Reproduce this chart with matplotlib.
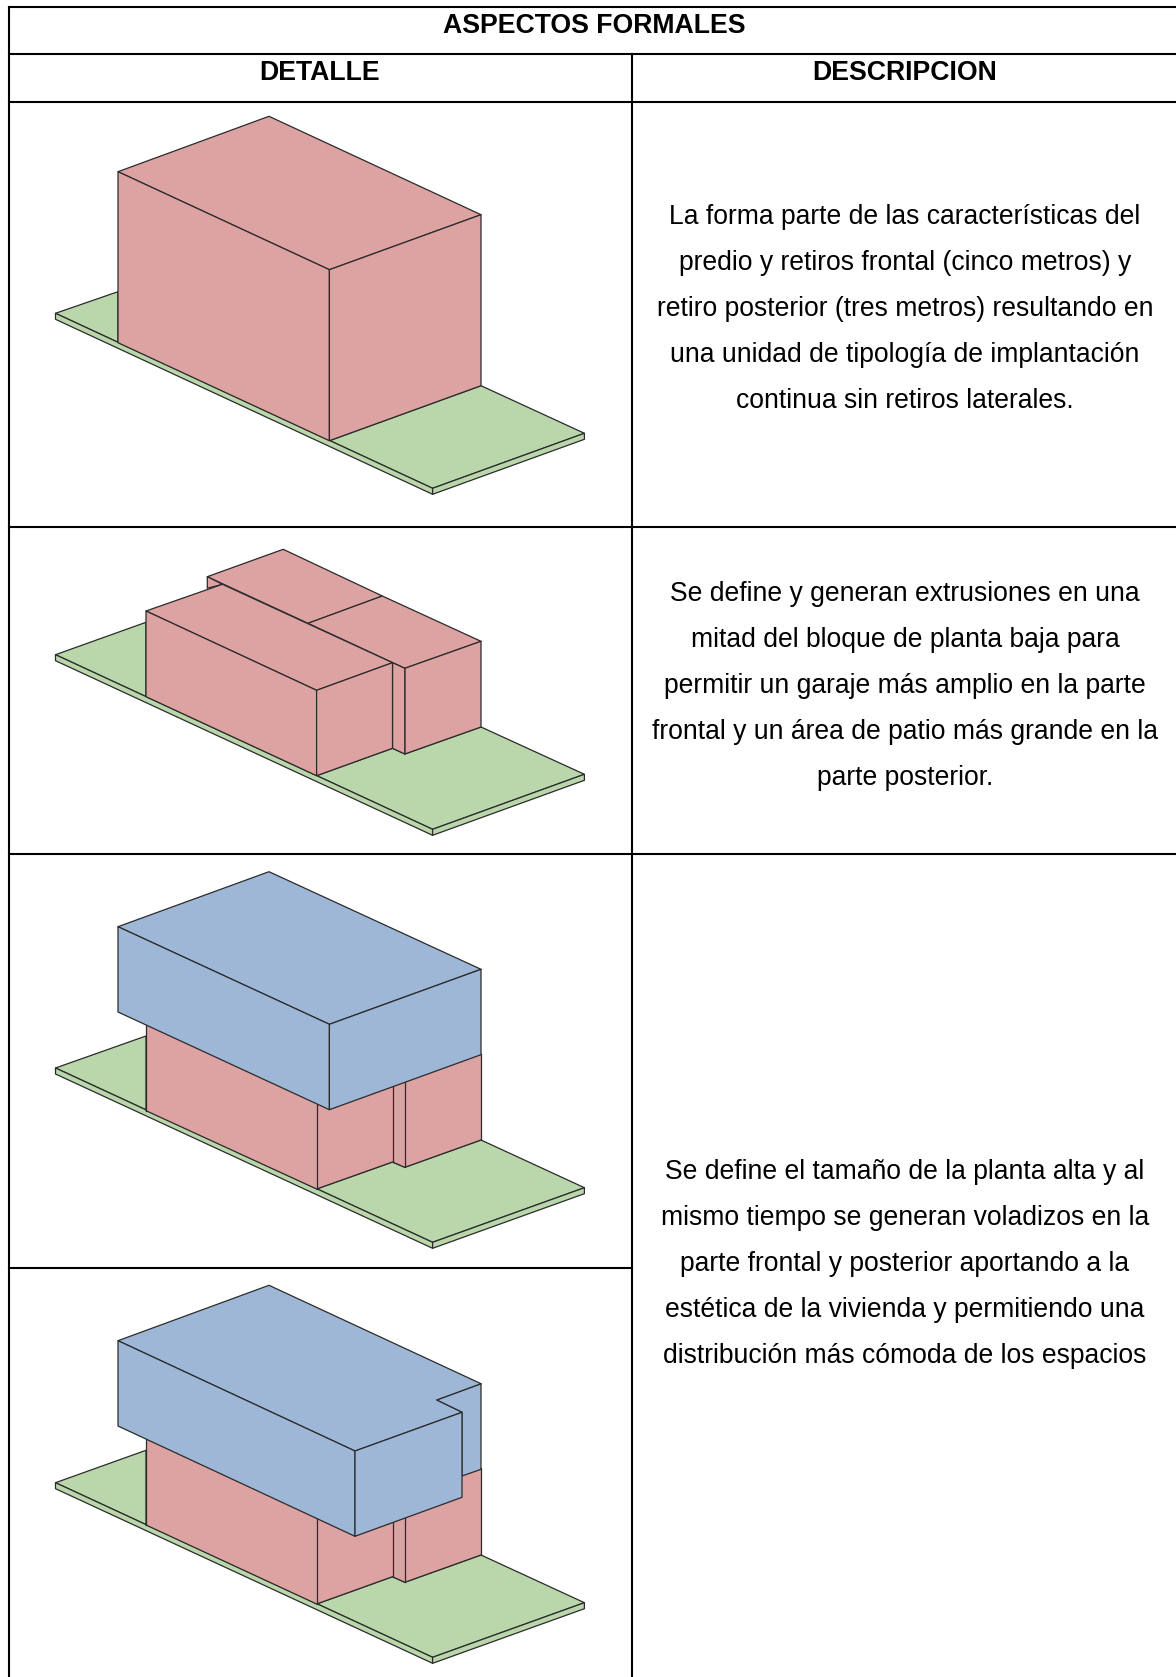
import matplotlib
matplotlib.use("Agg")
import matplotlib.pyplot as plt
from matplotlib.patches import Polygon

W, H = 1176, 1677
PINK, GREEN, BLUE = "#DDA2A2", "#BAD7AC", "#9FB7D7"
EDGE = "#2b2b2b"

title = "ASPECTOS FORMALES"
col_heads = ["DETALLE", "DESCRIPCION"]
row1_text = ["La forma parte de las características del",
             "predio y retiros frontal (cinco metros) y",
             "retiro posterior (tres metros) resultando en",
             "una unidad de tipología de implantación",
             "continua sin retiros laterales."]
row2_text = ["Se define y generan extrusiones en una",
             "mitad del bloque de planta baja para",
             "permitir un garaje más amplio en la parte",
             "frontal y un área de patio más grande en la",
             "parte posterior."]
row3_text = ["Se define el tamaño de la planta alta y al",
             "mismo tiempo se generan voladizos en la",
             "parte frontal y posterior aportando a la",
             "estética de la vivienda y permitiendo una",
             "distribución más cómoda de los espacios"]
row1_y = [217, 263, 309, 355, 401]
row2_y = [594, 640, 686, 732, 778]
row3_y = [1172, 1218, 1264, 1310, 1356]

grid_x = [8.5, 632]
full_rules_y = [7, 53.5, 102, 526.5, 853.5]
left_rule_y = 1267.5

# base plate: left, front and right corners
base_x = [55.5, 432.6, 584.4]
base_thick = 6
# per drawing: y of the corners and the outline of the plate behind the massing
d1_base = dict(y=[313.3, 488.3, 433.3],
               rim=[(118, 291.7), (118, 342.7), (329.4, 440.7), (481, 385.7)])
d2_base = dict(y=[654.7, 829.3, 774.3],
               rim=[(146, 622.3), (146, 696.7), (316.6, 775.7), (392.5, 748.3), (404.8, 754), (481, 727)])
d3_base = dict(y=[1068, 1242.3, 1187.7],
               rim=[(146, 1036), (146, 1110.7), (316.6, 1189), (392.5, 1162), (404.8, 1167.3), (481, 1140)])
d4_base = dict(y=[1482.7, 1657.3, 1602.7],
               rim=[(146, 1450.3), (146, 1525), (316.6, 1604), (392.5, 1576.7), (404.8, 1582.3), (481, 1555)])

d1_pink = [
    [(118, 171.7), (269, 116.3), (481, 214.7), (329.4, 269.7)],
    [(118, 171.7), (329.4, 269.7), (329.4, 440.7), (118, 342.7)],
    [(329.4, 269.7), (481, 214.7), (481, 385.7), (329.4, 440.7)],
]
d2_pink = [
    [(207.3, 576.7), (283.2, 549.3), (382.3, 596), (308, 623.3)],
    [(207.3, 576.7), (222.4, 584.3), (207.3, 588.3)],
    [(308, 623.3), (382.3, 596), (481, 641.3), (404.8, 668.3)],
    [(404.8, 668.3), (481, 641.3), (481, 727), (404.8, 754)],
    [(392.5, 662.7), (404.8, 668.3), (404.8, 754), (392.5, 748.3)],
    [(146, 611), (222.4, 584.3), (392.5, 662.7), (316.6, 690.3)],
    [(146, 611), (316.6, 690.3), (316.6, 775.7), (146, 696.7)],
    [(316.6, 690.3), (392.5, 662.7), (392.5, 748.3), (316.6, 775.7)],
]
# lower floor: the upper ends lie behind the blue volume
d3_pink = [(146, 1000), (481, 1000), (481, 1140), (404.8, 1167.3), (392.5, 1162), (316.6, 1189), (146, 1110.7)]
d3_lines = [[(146, 1000), (146, 1110.7)], [(481, 1054), (481, 1140)], [(316.6, 1090), (316.6, 1189)],
            [(392.5, 1070), (392.5, 1162)], [(404.8, 1070), (404.8, 1167.3)],
            [(146, 1110.7), (316.6, 1189), (392.5, 1162), (404.8, 1167.3), (481, 1140)]]
d3_blue = [
    [(118, 926.7), (269, 871.7), (481, 969.3), (329.4, 1024.3)],
    [(118, 926.7), (329.4, 1024.3), (329.4, 1109.7), (118, 1012)],
    [(329.4, 1024.3), (481, 969.3), (481, 1054.7), (329.4, 1109.7)],
]
d4_pink = [(146, 1400), (475, 1400), (481, 1460), (481, 1555), (404.8, 1582.3), (392.5, 1576.7), (316.6, 1604), (146, 1525)]
d4_lines = [[(146, 1400), (146, 1525)], [(481, 1468), (481, 1555)], [(316.6, 1500), (316.6, 1604)],
            [(392.5, 1500), (392.5, 1576.7)], [(404.8, 1500), (404.8, 1582.3)],
            [(146, 1525), (316.6, 1604), (392.5, 1576.7), (404.8, 1582.3), (481, 1555)]]
d4_blue = [
    [(436.6, 1400), (481, 1383.7), (481, 1469.3), (462, 1476), (462, 1412.3)],
    [(118, 1340.7), (269, 1285.3), (481, 1383.7), (436.6, 1400), (462, 1412.3), (355, 1451)],
    [(118, 1340.7), (355, 1451), (355, 1536.3), (118, 1426)],
    [(355, 1451), (462, 1412.3), (462, 1497.3), (355, 1536.3)],
]

fig = plt.figure(figsize=(W / 100, H / 100), dpi=100)
ax = fig.add_axes([0, 0, 1, 1])
ax.set_xlim(0, W)
ax.set_ylim(H, 0)
ax.axis("off")
FONT = ["Liberation Sans", "DejaVu Sans"]
EW = 0.9


def face(pts, color, z=3):
    ax.add_patch(Polygon(pts, closed=True, facecolor=color, edgecolor=EDGE,
                         linewidth=EW, joinstyle="round", zorder=z))


def plate(b):
    yl, yf, yr = b["y"]
    xl, xf, xr = base_x
    face([(xl, yl)] + b["rim"] + [(xr, yr), (xf, yf)], GREEN, 2)
    face([(xl, yl), (xf, yf), (xf, yf + base_thick), (xl, yl + base_thick)], GREEN, 2)
    face([(xf, yf), (xr, yr), (xr, yr + base_thick), (xf, yf + base_thick)], GREEN, 2)


for b in (d1_base, d2_base, d3_base, d4_base):
    plate(b)
for pts in d1_pink + d2_pink:
    face(pts, PINK)
for outline, lines, blue in ((d3_pink, d3_lines, d3_blue), (d4_pink, d4_lines, d4_blue)):
    ax.add_patch(Polygon(outline, closed=True, facecolor=PINK, edgecolor="none", zorder=3))
    for ln in lines:
        xs, ys = zip(*ln)
        ax.plot(xs, ys, color=EDGE, lw=EW, zorder=3.1)
    for pts in blue:
        face(pts, BLUE, 4)

# table rules
for y in full_rules_y:
    ax.plot([grid_x[0], W], [y, y], color="black", lw=1.5, zorder=6)
ax.plot([grid_x[0], grid_x[1]], [left_rule_y, left_rule_y], color="black", lw=1.5, zorder=6)
ax.plot([grid_x[0], grid_x[0]], [full_rules_y[0], H], color="black", lw=1.5, zorder=6)
ax.plot([grid_x[1], grid_x[1]], [full_rules_y[1], H], color="black", lw=1.5, zorder=6)

BOLD = 19.15
BODY = 19.1
ax.text(594, 26, title, family=FONT, weight="bold", fontsize=BOLD, ha="center", va="center", color="black")
ax.text(320, 73, col_heads[0], family=FONT, weight="bold", fontsize=BOLD, ha="center", va="center", color="black")
ax.text(905, 73, col_heads[1], family=FONT, weight="bold", fontsize=BOLD, ha="center", va="center", color="black")
for lines, ys in ((row1_text, row1_y), (row2_text, row2_y), (row3_text, row3_y)):
    for s, y in zip(lines, ys):
        ax.text(905, y, s, family=FONT, fontsize=BODY, ha="center", va="center", color="black")

fig.savefig("out.png", dpi=100)
